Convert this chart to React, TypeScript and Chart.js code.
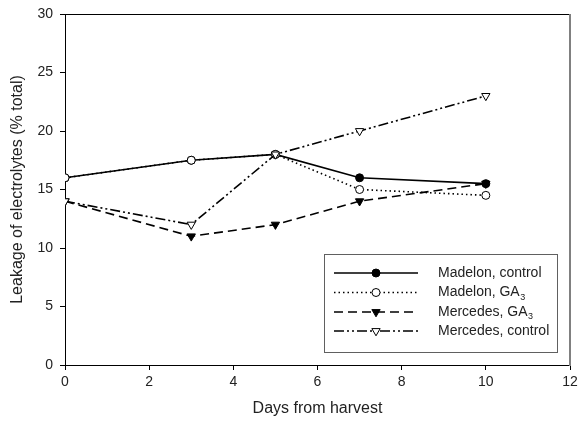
import React, { useEffect, useRef } from "react";
import { Chart, registerables } from "chart.js";
Chart.register(...registerables);

const days = [0, 3, 5, 7, 10];
const madelonControl = [16, 17.5, 18, 16, 15.5];
const madelonGA3 = [16, 17.5, 18, 15, 14.5];
const mercedesGA3 = [14, 11, 12, 14, 15.5];
const mercedesControl = [14, 12, 18, 20, 23];
const seriesNames = ["Madelon, control", "Madelon, GA", "Mercedes, GA", "Mercedes, control"];
const seriesSubs = ["", "3", "3", ""];
const xTitle = "Days from harvest";
const yTitle = "Leakage of electrolytes (% total)";

const FONT = "'Liberation Sans', Arial, sans-serif";

type Style = { dash: number[]; shape: "circle" | "tri"; fill: string };
const styles: Style[] = [
  { dash: [], shape: "circle", fill: "#000" },
  { dash: [1.5, 3], shape: "circle", fill: "#fff" },
  { dash: [9, 5], shape: "tri", fill: "#000" },
  { dash: [10, 3, 2, 3, 2, 3], shape: "tri", fill: "#fff" },
];

function drawMarker(ctx: CanvasRenderingContext2D, shape: string, fill: string, x: number, y: number) {
  ctx.save();
  ctx.setLineDash([]);
  ctx.lineWidth = 1;
  ctx.strokeStyle = "#000";
  ctx.fillStyle = fill;
  ctx.beginPath();
  if (shape === "circle") {
    ctx.arc(x, y, 4, 0, Math.PI * 2);
  } else {
    const r = 4.8;
    let a = Math.PI;
    ctx.moveTo(x + Math.sin(a) * r, y - Math.cos(a) * r);
    a += (2 * Math.PI) / 3;
    ctx.lineTo(x + Math.sin(a) * r, y - Math.cos(a) * r);
    a += (2 * Math.PI) / 3;
    ctx.lineTo(x + Math.sin(a) * r, y - Math.cos(a) * r);
    ctx.closePath();
  }
  ctx.fill();
  ctx.stroke();
  ctx.restore();
}

const framePlugin = {
  id: "frame",
  beforeDatasetsDraw(chart: any) {
    const { ctx, chartArea } = chart;
    ctx.save();
    ctx.strokeStyle = "#000";
    ctx.lineWidth = 1;
    ctx.beginPath();
    ctx.moveTo(chartArea.left, chartArea.top + 0.5);
    ctx.lineTo(chartArea.right, chartArea.top + 0.5);
    ctx.stroke();
    ctx.strokeStyle = "#808080";
    ctx.lineWidth = 2;
    ctx.beginPath();
    ctx.moveTo(chartArea.right, chartArea.top);
    ctx.lineTo(chartArea.right, chartArea.bottom + 1);
    ctx.stroke();
    ctx.restore();
  },
};

const legendPlugin = {
  id: "customLegend",
  afterDatasetsDraw(chart: any) {
    const { ctx } = chart;
    const bx = 324.5, by = 254.5, bw = 233, bh = 98;
    ctx.save();
    ctx.fillStyle = "#fff";
    ctx.fillRect(bx, by, bw, bh);
    ctx.strokeStyle = "#606060";
    ctx.lineWidth = 1;
    ctx.strokeRect(bx, by, bw, bh);
    const rows = [273, 292.5, 312, 331];
    rows.forEach((ry, i) => {
      const s = styles[i];
      ctx.save();
      ctx.strokeStyle = "#000";
      ctx.lineWidth = 1.6;
      ctx.setLineDash(s.dash);
      ctx.beginPath();
      ctx.moveTo(334, ry);
      ctx.lineTo(418, ry);
      ctx.stroke();
      ctx.restore();
      drawMarker(ctx, s.shape, s.fill, 376, ry);
      ctx.fillStyle = "#222";
      ctx.font = `14px ${FONT}`;
      ctx.textAlign = "left";
      ctx.textBaseline = "middle";
      ctx.fillText(seriesNames[i], 438, ry);
      if (seriesSubs[i]) {
        const w = ctx.measureText(seriesNames[i]).width;
        ctx.font = `9px ${FONT}`;
        ctx.fillText(seriesSubs[i], 438 + w + 0.5, ry + 5);
      }
    });
    ctx.restore();
  },
};

export default function App() {
  const ref = useRef<HTMLCanvasElement>(null);
  useEffect(() => {
    if (!ref.current) return;
    const all = [madelonControl, madelonGA3, mercedesGA3, mercedesControl];
    const orders = [4, 3, 2, 1];
    const datasets = all.map((vals, i) => ({
      label: seriesNames[i] + seriesSubs[i],
      data: days.map((d, j) => ({ x: d, y: vals[j] })),
      borderColor: "#000",
      borderWidth: 1.6,
      borderDash: styles[i].dash,
      pointStyle: styles[i].shape === "circle" ? "circle" : "triangle",
      pointRotation: styles[i].shape === "circle" ? 0 : 180,
      pointRadius: styles[i].shape === "circle" ? 4 : 4.8,
      pointBackgroundColor: styles[i].fill,
      pointBorderColor: "#000",
      pointBorderWidth: 1,
      fill: false,
      tension: 0,
      order: orders[i],
    }));
    const chart = new Chart(ref.current, {
      type: "line",
      data: { datasets },
      options: {
        animation: false,
        responsive: false,
        devicePixelRatio: 1,
        layout: { padding: { top: 14, right: 8, left: 0, bottom: 0 } },
        plugins: { legend: { display: false }, tooltip: { enabled: false } },
        scales: {
          x: {
            type: "linear",
            min: 0,
            max: 12,
            afterFit: (s: any) => { s.height = 57; s.paddingLeft = 0; s.paddingRight = 0; },
            ticks: { stepSize: 2, color: "#222", padding: 4, font: { family: FONT, size: 14 } },
            grid: { drawOnChartArea: false, drawTicks: true, tickLength: 5, color: "#000" },
            border: { display: true, color: "#000", width: 1 },
            title: { display: true, text: xTitle, color: "#222", font: { family: FONT, size: 16 }, padding: { top: 0, bottom: 4 } },
          },
          y: {
            type: "linear",
            min: 0,
            max: 30,
            afterFit: (s: any) => { s.width = 65; s.paddingTop = 0; s.paddingBottom = 0; },
            ticks: { stepSize: 5, color: "#222", padding: 7, font: { family: FONT, size: 14 } },
            grid: { drawOnChartArea: false, drawTicks: true, tickLength: 5, color: "#000" },
            border: { display: true, color: "#000", width: 1 },
            title: { display: true, text: yTitle, color: "#222", font: { family: FONT, size: 16 }, padding: { top: 8, bottom: 0 } },
          },
        },
      } as any,
      plugins: [framePlugin, legendPlugin],
    });
    return () => chart.destroy();
  }, []);
  return (
    <div style={{ position: "absolute", left: 0, top: 0, width: 578, height: 422, background: "#fff" }}>
      <canvas ref={ref} width={578} height={422} style={{ display: "block" }} />
    </div>
  );
}
